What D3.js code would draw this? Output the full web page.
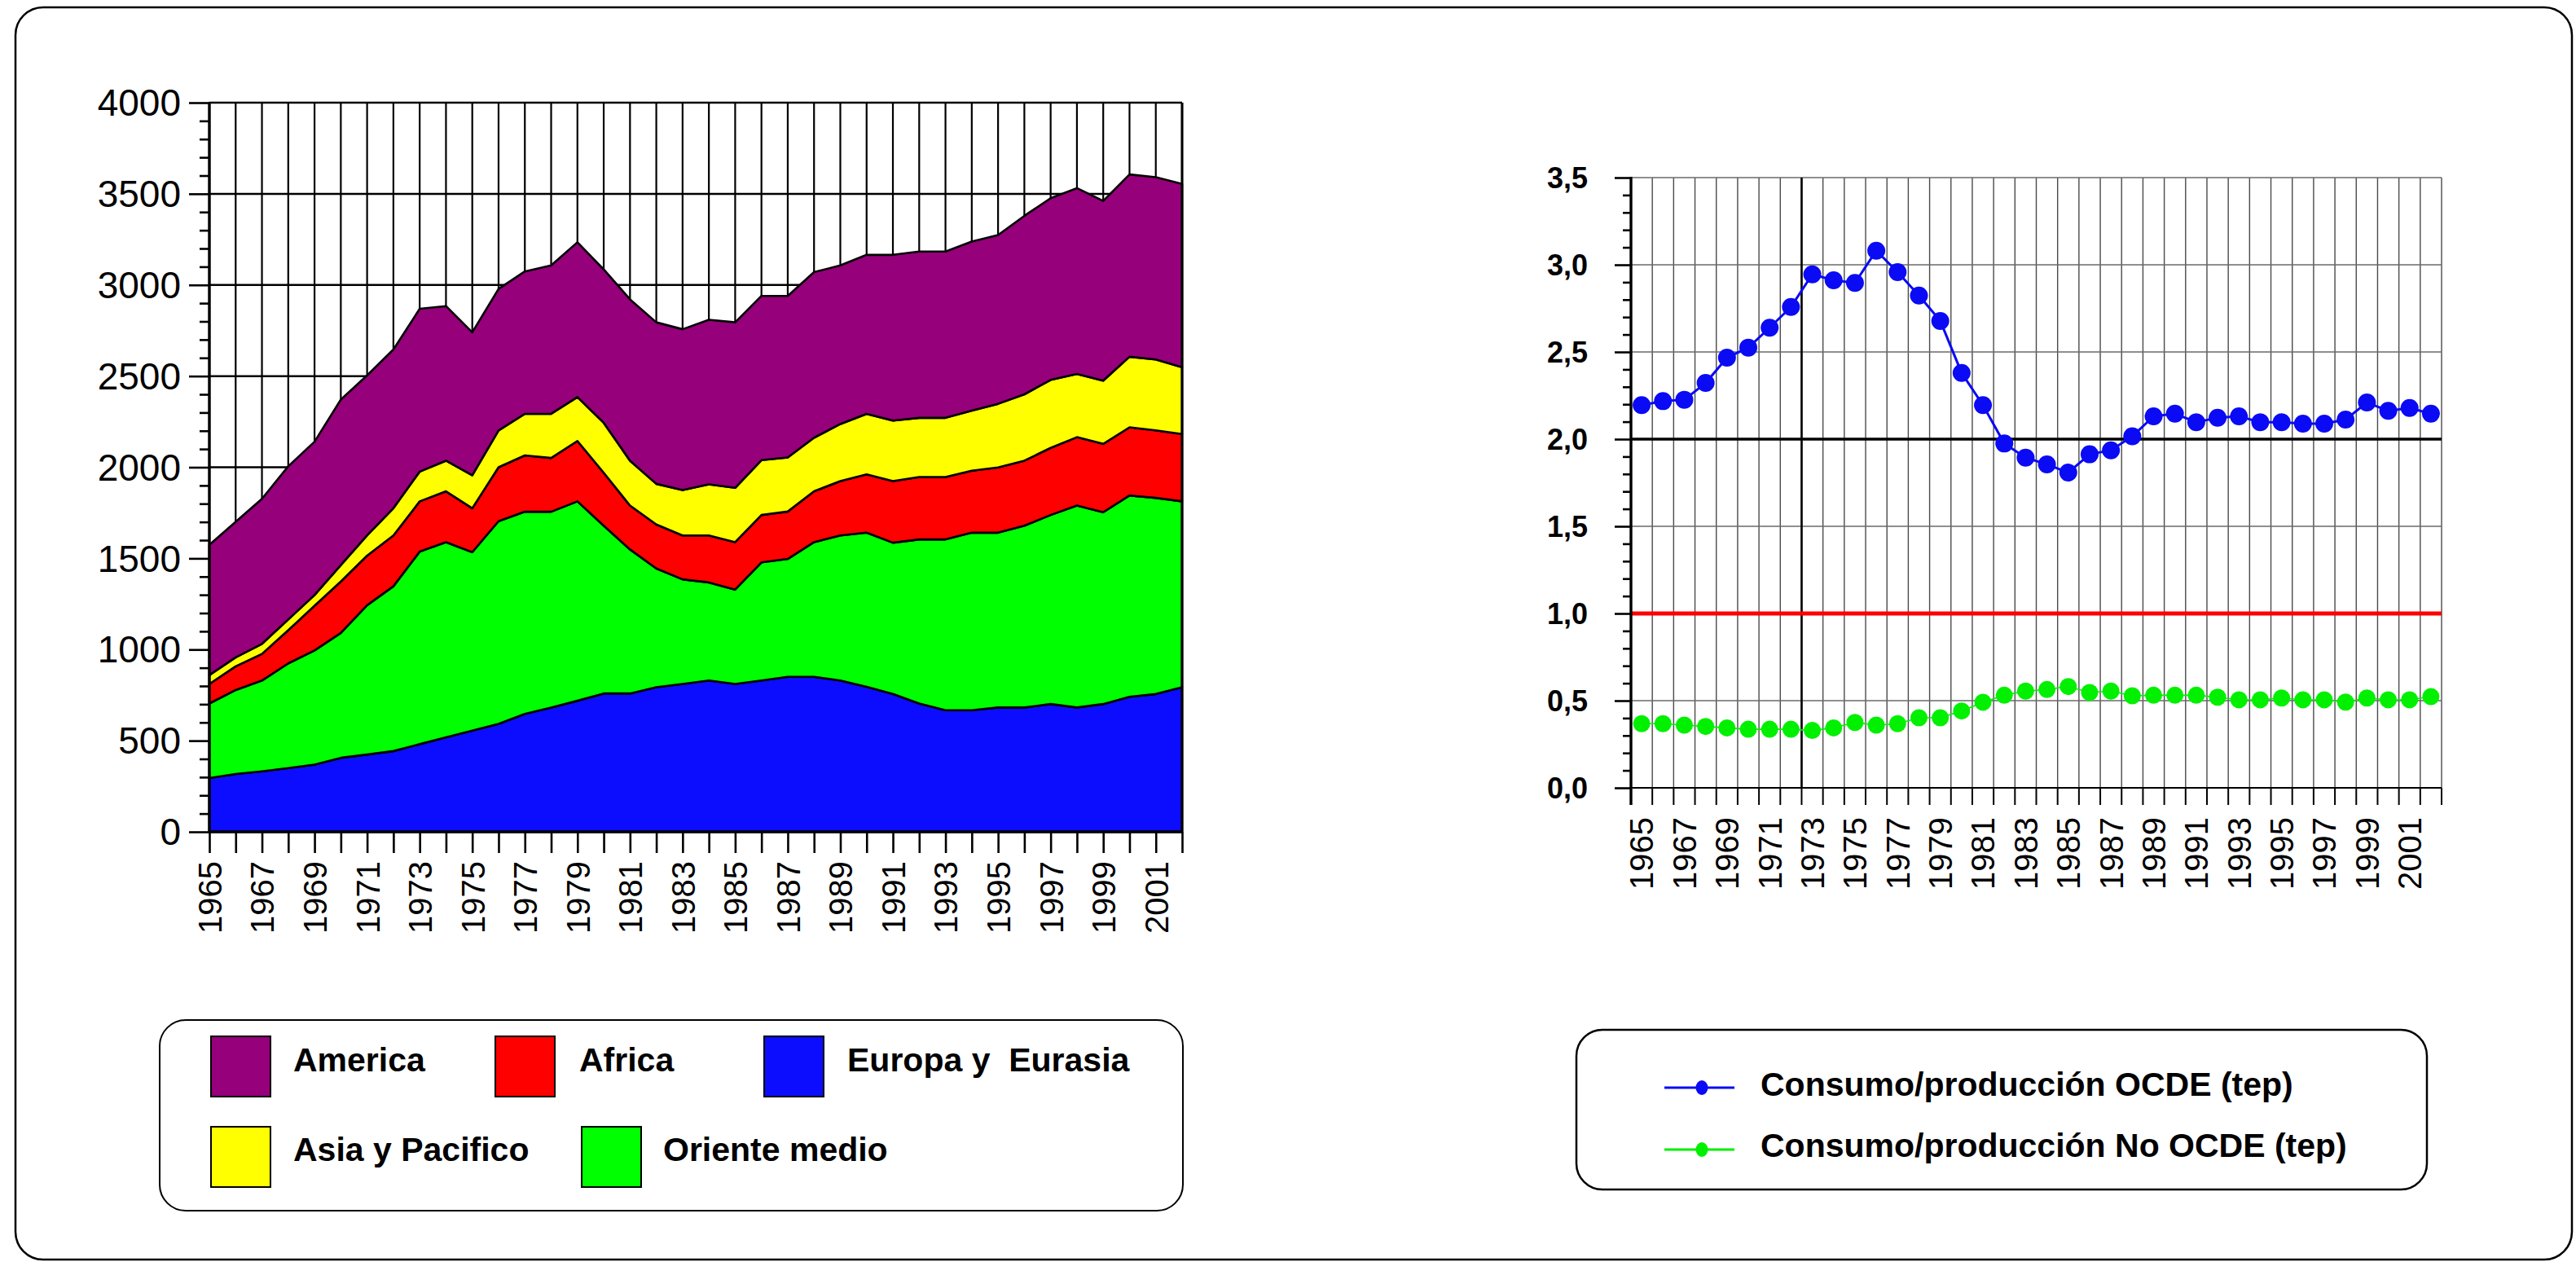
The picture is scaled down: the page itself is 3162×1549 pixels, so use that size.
<!DOCTYPE html>
<html>
<head>
<meta charset="utf-8">
<script src="https://cdn.jsdelivr.net/npm/d3@7"></script>
<style>
  html, body { margin: 0; padding: 0; background: #ffffff; }
  svg { display: block; font-family: "Liberation Sans", Arial, Helvetica, sans-serif; }
</style>
</head>
<body>
<svg id="chart" width="3162" height="1549"></svg>
<script>
// ---- Datos: producción de petróleo por región (Mt) ----
const years = d3.range(1965, 2003);

const europa = [295,317,332,350,369,406,424,443,481,518,555,592,647,682,719,759,759,793,811,830,
                811,830,850,850,830,796,756,704,667,667,682,682,701,682,701,741,756,793];
const orienteMedio = [409,461,498,574,626,685,819,904,1056,1071,979,1112,1109,1074,1094,920,790,652,574,538,
                      518,648,647,739,796,845,830,900,937,974,959,997,1037,1108,1052,1104,1076,1020];
const africa = [107,130,146,182,245,282,272,279,276,279,241,296,309,295,331,291,241,241,241,258,
                260,260,260,279,298,320,338,342,342,340,358,357,368,375,375,374,370,369];
const asiaPacifico = [49,49,55,59,59,90,111,149,163,168,181,202,228,242,241,274,246,223,249,280,
                      298,301,297,294,313,332,332,325,325,330,349,364,373,347,347,387,389,367];
const america = [714,744,796,840,841,908,878,871,893,848,784,776,781,814,849,841,885,886,882,903,
                 908,901,886,908,870,872,909,912,912,927,926,979,997,1019,986,1000,1000,1005];

// ---- Datos: relación consumo/producción (tep) ----
const ocde = [2.195,2.218,2.226,2.322,2.467,2.525,2.639,2.758,2.945,2.911,2.896,3.081,2.958,2.824,2.678,2.380,2.195,1.975,1.894,1.855,
              1.808,1.913,1.936,2.016,2.131,2.146,2.097,2.123,2.131,2.097,2.097,2.089,2.089,2.112,2.210,2.162,2.179,2.146];
const noOcde = [0.368,0.368,0.360,0.352,0.344,0.336,0.336,0.336,0.329,0.344,0.375,0.360,0.368,0.402,0.402,0.441,0.491,0.531,0.555,0.564,
                0.581,0.547,0.555,0.528,0.531,0.531,0.531,0.520,0.505,0.505,0.515,0.505,0.505,0.492,0.515,0.505,0.505,0.523];
const referenceLevel = 1.0;
const markerYear = 1973;

const regionKeys = ["europa", "oriente", "africa", "asia", "america"];
const regionLabels = {
  america: "America", africa: "Africa", europa: "Europa y  Eurasia",
  asia: "Asia y Pacifico", oriente: "Oriente medio"
};
const ratioLabels = ["Consumo/producción OCDE (tep)", "Consumo/producción No OCDE (tep)"];

const leftYMajor = d3.range(0, 4001, 500);
const leftYMinor = d3.range(0, 4001, 100).filter(v => v % 500 !== 0);
const rightYMajor = d3.range(0, 36, 5).map(v => v / 10);
const rightYMinor = d3.range(0, 36).filter(v => v % 5 !== 0).map(v => v / 10);

// ---- Estilo ----
const regionColors = {
  america: "#96007a", africa: "#ff0000", europa: "#0c0cff",
  asia: "#ffff00", oriente: "#00ff00"
};
const ocdeColor = "#0a0af5";
const noOcdeColor = "#00f000";

const svg = d3.select("#chart");
const esLocale = d3.formatLocale({ decimal: ",", thousands: ".", grouping: [3], currency: ["", ""] });
const fmt1 = esLocale.format(".1f");
const fmtInt = d3.format("d");

// Marco exterior
svg.append("rect")
  .attr("x", 19).attr("y", 9).attr("width", 3138).attr("height", 1537)
  .attr("rx", 34).attr("ry", 34)
  .attr("fill", "none").attr("stroke", "#000").attr("stroke-width", 2.5);

// =====================================================================
// Gráfico de áreas apiladas
// =====================================================================
const table = years.map((yr, i) => ({
  year: yr, europa: europa[i], oriente: orienteMedio[i], africa: africa[i],
  asia: asiaPacifico[i], america: america[i]
}));

const xL = d3.scalePoint().domain(years).range([257, 1451]);
const yL = d3.scaleLinear().domain([0, 4000]).range([1021, 126]);

const gL = svg.append("g");

// rejilla
gL.append("g").selectAll("line").data(years).join("line")
  .attr("x1", d => xL(d)).attr("x2", d => xL(d))
  .attr("y1", yL(4000)).attr("y2", yL(0))
  .attr("stroke", "#000").attr("stroke-width", 2.2);
gL.append("g").selectAll("line").data(leftYMajor.filter(v => v > 0)).join("line")
  .attr("x1", xL.range()[0]).attr("x2", xL.range()[1])
  .attr("y1", d => yL(d)).attr("y2", d => yL(d))
  .attr("stroke", "#000").attr("stroke-width", 2.5);

// áreas
const stacked = d3.stack().keys(regionKeys)(table);
const area = d3.area()
  .x(d => xL(d.data.year))
  .y0(d => yL(d[0]))
  .y1(d => yL(d[1]));

gL.append("g").selectAll("path").data(stacked).join("path")
  .attr("d", area)
  .attr("fill", d => regionColors[d.key])
  .attr("stroke", "#000").attr("stroke-width", 2.6)
  .attr("stroke-linejoin", "round");

// ejes
const axL = gL.append("g").attr("transform", `translate(${xL.range()[0]},0)`)
  .call(d3.axisLeft(yL).tickValues(leftYMajor).tickSize(25).tickPadding(10).tickFormat(fmtInt));
axL.selectAll("text").attr("font-size", 46).attr("font-family", "Liberation Sans, Arial, sans-serif")
  .attr("fill", "#000").attr("dy", "0.34em");
axL.selectAll("line").attr("stroke-width", 2.6);
axL.select(".domain").remove();

const axLm = gL.append("g").attr("transform", `translate(${xL.range()[0]},0)`)
  .call(d3.axisLeft(yL).tickValues(leftYMinor).tickSize(12).tickFormat(""));
axLm.selectAll("line").attr("stroke-width", 2.6);
axLm.select(".domain").remove();

const axLx = gL.append("g").attr("transform", `translate(0,${yL(0)})`)
  .call(d3.axisBottom(xL).tickSize(26).tickFormat(d => (d % 2 === 1 ? d : "")));
axLx.select(".domain").remove();
axLx.selectAll("line").attr("stroke-width", 2.6);
axLx.selectAll("text")
  .attr("font-size", 40).attr("font-family", "Liberation Sans, Arial, sans-serif").attr("fill", "#000")
  .attr("transform", "rotate(-90)")
  .attr("text-anchor", "end")
  .attr("x", -36).attr("y", 0).attr("dy", "0.36em");

// líneas de eje
gL.append("line").attr("x1", xL.range()[0]).attr("x2", xL.range()[0])
  .attr("y1", yL(4000) - 1).attr("y2", yL(0) + 1).attr("stroke", "#000").attr("stroke-width", 3.4);
gL.append("line").attr("x1", xL.range()[0] - 1).attr("x2", xL.range()[1] + 1)
  .attr("y1", yL(0)).attr("y2", yL(0)).attr("stroke", "#000").attr("stroke-width", 3.4);
gL.append("line").attr("x1", xL.range()[1]).attr("x2", xL.range()[1])
  .attr("y1", yL(4000)).attr("y2", yL(0)).attr("stroke", "#000").attr("stroke-width", 3);

// leyenda regiones
svg.append("rect")
  .attr("x", 196).attr("y", 1252).attr("width", 1256).attr("height", 234)
  .attr("rx", 32).attr("ry", 32)
  .attr("fill", "#fff").attr("stroke", "#000").attr("stroke-width", 2);

const legendLeft = [
  { key: "america", sx: 259, sy: 1272, tx: 360, ty: 1315 },
  { key: "africa",  sx: 608, sy: 1272, tx: 711, ty: 1315 },
  { key: "europa",  sx: 938, sy: 1272, tx: 1040, ty: 1315 },
  { key: "asia",    sx: 259, sy: 1383, tx: 360, ty: 1425 },
  { key: "oriente", sx: 714, sy: 1383, tx: 814, ty: 1425 }
];
const lg = svg.append("g").selectAll("g").data(legendLeft).join("g");
lg.append("rect")
  .attr("x", d => d.sx).attr("y", d => d.sy).attr("width", 73).attr("height", 74)
  .attr("fill", d => regionColors[d.key]).attr("stroke", "#000").attr("stroke-width", 2);
lg.append("text")
  .attr("x", d => d.tx).attr("y", d => d.ty)
  .attr("font-size", 41).attr("font-weight", "bold")
  .style("white-space", "pre")
  .attr("fill", "#000")
  .text(d => regionLabels[d.key]);

// =====================================================================
// Gráfico de relación consumo/producción
// =====================================================================
const xR = d3.scaleBand().domain(years).range([2002, 2997]).padding(0);
const yR = d3.scaleLinear().domain([0, 3.5]).range([967, 218]);
const cx = d => xR(d) + xR.bandwidth() / 2;
const bounds = years.map(d => xR(d)).concat([xR.range()[1]]);

const gR = svg.append("g");

// rejilla vertical
gR.append("g").selectAll("line").data(bounds.slice(1)).join("line")
  .attr("x1", d => d).attr("x2", d => d)
  .attr("y1", yR(3.5)).attr("y2", yR(0))
  .attr("stroke", "#4a4a4a").attr("stroke-width", 1.4);
// rejilla horizontal
gR.append("g").selectAll("line").data(rightYMajor.filter(v => v > 0 && v !== 2)).join("line")
  .attr("x1", xR.range()[0]).attr("x2", xR.range()[1])
  .attr("y1", d => yR(d)).attr("y2", d => yR(d))
  .attr("stroke", "#6a6a6a").attr("stroke-width", 1.6);
// línea 2,0
gR.append("line").attr("x1", xR.range()[0]).attr("x2", xR.range()[1])
  .attr("y1", yR(2)).attr("y2", yR(2)).attr("stroke", "#000").attr("stroke-width", 3.4);
// línea de 1973
gR.append("line").attr("x1", xR(markerYear)).attr("x2", xR(markerYear))
  .attr("y1", yR(3.5)).attr("y2", yR(0)).attr("stroke", "#000").attr("stroke-width", 2.6);
// línea de referencia 1,0
gR.append("line").attr("x1", xR.range()[0]).attr("x2", xR.range()[1])
  .attr("y1", yR(referenceLevel)).attr("y2", yR(referenceLevel))
  .attr("stroke", "#ff0000").attr("stroke-width", 5);

// marcas inferiores
gR.append("g").selectAll("line").data(bounds).join("line")
  .attr("x1", d => d).attr("x2", d => d)
  .attr("y1", yR(0)).attr("y2", yR(0) + 21)
  .attr("stroke", "#000").attr("stroke-width", 2);
// eje x
gR.append("line").attr("x1", xR.range()[0]).attr("x2", xR.range()[1])
  .attr("y1", yR(0)).attr("y2", yR(0)).attr("stroke", "#000").attr("stroke-width", 2);

const axRx = gR.append("g").attr("transform", `translate(0,${yR(0)})`)
  .call(d3.axisBottom(xR).tickSize(0).tickFormat(d => (d % 2 === 1 ? d : "")));
axRx.select(".domain").remove();
axRx.selectAll("text")
  .attr("font-size", 40).attr("font-family", "Liberation Sans, Arial, sans-serif").attr("fill", "#000")
  .attr("transform", "rotate(-90)")
  .attr("text-anchor", "end")
  .attr("x", -36).attr("y", 0).attr("dy", "0.36em");

// eje y
const axR = gR.append("g").attr("transform", `translate(${xR.range()[0]},0)`)
  .call(d3.axisLeft(yR).tickValues(rightYMajor).tickSize(20).tickPadding(33).tickFormat(fmt1));
axR.select(".domain").remove();
axR.selectAll("line").attr("stroke-width", 2.6);
axR.selectAll("text").attr("font-size", 36).attr("font-weight", "bold")
  .attr("font-family", "Liberation Sans, Arial, sans-serif").attr("fill", "#000").attr("dy", "0.35em");
const axRm = gR.append("g").attr("transform", `translate(${xR.range()[0]},0)`)
  .call(d3.axisLeft(yR).tickValues(rightYMinor).tickSize(10).tickFormat(""));
axRm.select(".domain").remove();
axRm.selectAll("line").attr("stroke-width", 2.6);
gR.append("line").attr("x1", xR.range()[0]).attr("x2", xR.range()[0])
  .attr("y1", yR(3.5) - 1).attr("y2", yR(0) + 21).attr("stroke", "#000").attr("stroke-width", 3.4);

// series
const series = [
  { values: ocde, color: ocdeColor, width: 3, r: 11 },
  { values: noOcde, color: noOcdeColor, width: 1.6, r: 10.5 }
];
const line = d3.line().x((d, i) => cx(years[i])).y(d => yR(d));
series.forEach(s => {
  gR.append("path").attr("d", line(s.values))
    .attr("fill", "none").attr("stroke", s.color).attr("stroke-width", s.width);
  gR.append("g").selectAll("circle").data(s.values).join("circle")
    .attr("cx", (d, i) => cx(years[i])).attr("cy", d => yR(d))
    .attr("r", s.r).attr("fill", s.color);
});

// leyenda series
svg.append("rect")
  .attr("x", 1935).attr("y", 1264).attr("width", 1044).attr("height", 196)
  .attr("rx", 32).attr("ry", 32)
  .attr("fill", "#fff").attr("stroke", "#000").attr("stroke-width", 2.5);

const legendRight = [
  { label: ratioLabels[0], color: ocdeColor, ly: 1335, ty: 1345 },
  { label: ratioLabels[1], color: noOcdeColor, ly: 1411, ty: 1420 }
];
const rg = svg.append("g").selectAll("g").data(legendRight).join("g");
rg.append("line")
  .attr("x1", 2043).attr("x2", 2129).attr("y1", d => d.ly).attr("y2", d => d.ly)
  .attr("stroke", d => d.color).attr("stroke-width", 3);
rg.append("ellipse")
  .attr("cx", 2089).attr("cy", d => d.ly).attr("rx", 7.5).attr("ry", 9)
  .attr("fill", d => d.color);
rg.append("text")
  .attr("x", 2161).attr("y", d => d.ty)
  .attr("font-size", 41).attr("font-weight", "bold").attr("fill", "#000")
  .text(d => d.label);
</script>
</body>
</html>
